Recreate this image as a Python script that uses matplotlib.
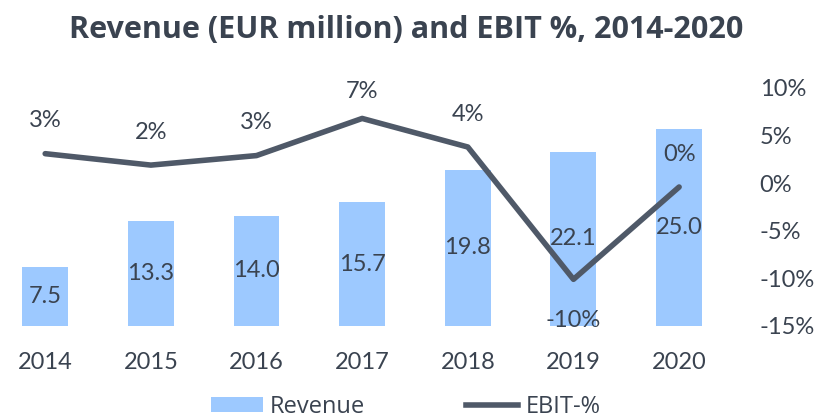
import matplotlib.pyplot as plt
import numpy as np
from matplotlib.lines import Line2D
from matplotlib.patches import Patch

years = ['2014', '2015', '2016', '2017', '2018', '2019', '2020']
revenue = [7.5, 13.3, 14.0, 15.7, 19.8, 22.1, 25.0]
ebit_pct = [3.1, 1.9, 2.9, 6.8, 3.8, -10.1, -0.4]
ebit_labels = ['3%', '2%', '3%', '7%', '4%', '-10%', '0%']
pct_ticks = [-15, -10, -5, 0, 5, 10]

bar_col = '#9dc9ff'
line_col = '#4f5968'
txt_col = '#3a4350'

plt.rcParams['font.family'] = ['Lato', 'DejaVu Sans']

fig = plt.figure(figsize=(8.16, 4.19), dpi=100)
ax = fig.add_axes([0.001, 0.222, 0.896, 0.568])
ax2 = ax.twinx()

x = np.arange(len(years))
bars = ax.bar(x, revenue, width=0.435, color=bar_col, zorder=1)
for xi, v in zip(x, revenue):
    ax.text(xi, v / 2, f'{v:.1f}', ha='center', va='center', fontsize=17, color=txt_col)

ax.set_ylim(0, 30.2)
ax.set_xlim(-0.42, 6.5)
ax.set_xticks(x)
ax.set_xticklabels(years, fontsize=17, color=txt_col)
ax.tick_params(axis='x', length=0, pad=19)
ax.set_yticks([])
for s in ax.spines.values():
    s.set_visible(False)

ax2.plot(x, ebit_pct, color=line_col, lw=4, solid_capstyle='round', zorder=3)
for xi, v, lab in zip(x, ebit_pct, ebit_labels):
    if v < -5:
        off = -22
        va = 'top'
    elif v > 5:
        off = 12
        va = 'bottom'
    else:
        off = 16
        va = 'bottom'
    ax2.annotate(lab, (xi, v), xytext=(0, off), textcoords='offset points',
                 ha='center', va=va, fontsize=17, color=txt_col)
ax2.set_ylim(-15, 10)
ax2.set_yticks(pct_ticks)
ax2.set_yticklabels([f'{t}%' for t in pct_ticks], fontsize=17, color=txt_col)
ax2.tick_params(axis='y', length=0, pad=20)
for s in ax2.spines.values():
    s.set_visible(False)
ax.set_zorder(0)
ax2.set_zorder(1)
ax2.patch.set_visible(False)

fig.suptitle('Revenue (EUR million) and EBIT %, 2014-2020', x=0.498, y=0.965,
             fontsize=22, fontweight='bold', color=txt_col, family='Open Sans')

handles = [Patch(facecolor=bar_col, label='Revenue'),
           Line2D([0], [0], color=line_col, lw=4, label='EBIT-%')]
fig.legend(handles=handles, loc='center', bbox_to_anchor=(0.497, 0.028), ncol=2,
           frameon=False, prop={'family': 'Open Sans', 'size': 17}, labelcolor=txt_col,
           handlelength=2.2, handleheight=0.6, columnspacing=4.3, handletextpad=0.3)

fig.savefig('out.png', dpi=100)
